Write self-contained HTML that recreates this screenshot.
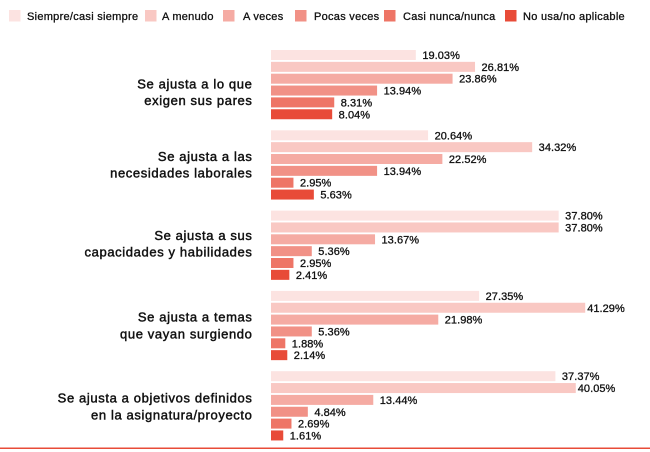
<!DOCTYPE html>
<html>
<head>
<meta charset="utf-8">
<style>
html,body{margin:0;padding:0;background:#fff;width:650px;height:452px;overflow:hidden}
svg{display:block}
text{font-family:"Liberation Sans",Arial,sans-serif;fill:#111}
.leg{font-size:11px;letter-spacing:.28px;stroke:#111;stroke-width:.3px}
.val{font-size:11px;letter-spacing:.05px;stroke:#111;stroke-width:.3px}
.cat{font-size:13px;letter-spacing:.62px;stroke:#111;stroke-width:.45px}
</style>
</head>
<body>
<svg id="chart" width="650" height="452" viewBox="0 0 650 452" xmlns="http://www.w3.org/2000/svg"></svg>
<script>
const categories = [
  ["Se ajusta a lo que", "exigen sus pares"],
  ["Se ajusta a las", "necesidades laborales"],
  ["Se ajusta a sus", "capacidades y habilidades"],
  ["Se ajusta a temas", "que vayan surgiendo"],
  ["Se ajusta a objetivos definidos", "en la asignatura/proyecto"]
];
const seriesNames = ["Siempre/casi siempre", "A menudo", "A veces", "Pocas veces", "Casi nunca/nunca", "No usa/no aplicable"];
const siempre = [19.03, 20.64, 37.80, 27.35, 37.37];
const aMenudo = [26.81, 34.32, 37.80, 41.29, 40.05];
const aVeces = [23.86, 22.52, 13.67, 21.98, 13.44];
const pocasVeces = [13.94, 13.94, 5.36, 5.36, 4.84];
const casiNunca = [8.31, 2.95, 2.95, 1.88, 2.69];
const noUsa = [8.04, 5.63, 2.41, 2.14, 1.61];
const seriesValues = [siempre, aMenudo, aVeces, pocasVeces, casiNunca, noUsa];
const seriesColors = ["#fce3e1", "#f9c8c3", "#f5aba3", "#f19186", "#ee7566", "#e84b38"];

const svg = document.getElementById('chart');
const NS = 'http://www.w3.org/2000/svg';
function make(tag, attrs, text) {
  const el = document.createElementNS(NS, tag);
  for (const k in attrs) el.setAttribute(k, attrs[k]);
  if (text !== undefined) el.textContent = text;
  svg.appendChild(el);
  return el;
}
const xScale = v => 271 + v * 7.61;
const groupY = i => 50 + i * 80.3;
const barY = (g, s) => groupY(g) + s * 11.85;
const slug = s => s.toLowerCase().replace(/[^a-z0-9]+/g, '-').replace(/^-|-$/g, '');
const labelOffset = [38.5, 30.7, 29.4, 30.8, 31.4];

const legendSwatchX = [9, 145, 223, 295, 384, 505];
const legendTextX = [27, 162, 243, 314, 403, 523];
seriesNames.forEach((name, s) => {
  const sw = make('rect', {x: legendSwatchX[s], y: 10, width: 11.5, height: 11.5, fill: seriesColors[s]});
  
  
  const t = make('text', {x: legendTextX[s], y: 20, class: 'leg'}, name);
  
  
});

categories.forEach((lines, g) => {
  lines.forEach((line, l) => {
    const t = make('text', {x: 252.5, y: groupY(g) + labelOffset[g] + l * 16.7, 'text-anchor': 'end', class: 'cat'}, line);
    
    
  });
  seriesValues.forEach((vals, s) => {
    const v = vals[g];
    const r = make('rect', {x: 271, y: barY(g, s), width: xScale(v) - 271, height: 10, fill: seriesColors[s]});
    
    
    const gap = v > 40 ? 2 : 6.5;
    const t = make('text', {x: xScale(v) + gap, y: barY(g, s) + 9, class: 'val'}, v.toFixed(2) + '%');
    
    
  });
});

const rule = make('rect', {x: 0, y: 447.5, width: 650, height: 1.5, fill: '#e84b38'});


</script>
</body>
</html>
